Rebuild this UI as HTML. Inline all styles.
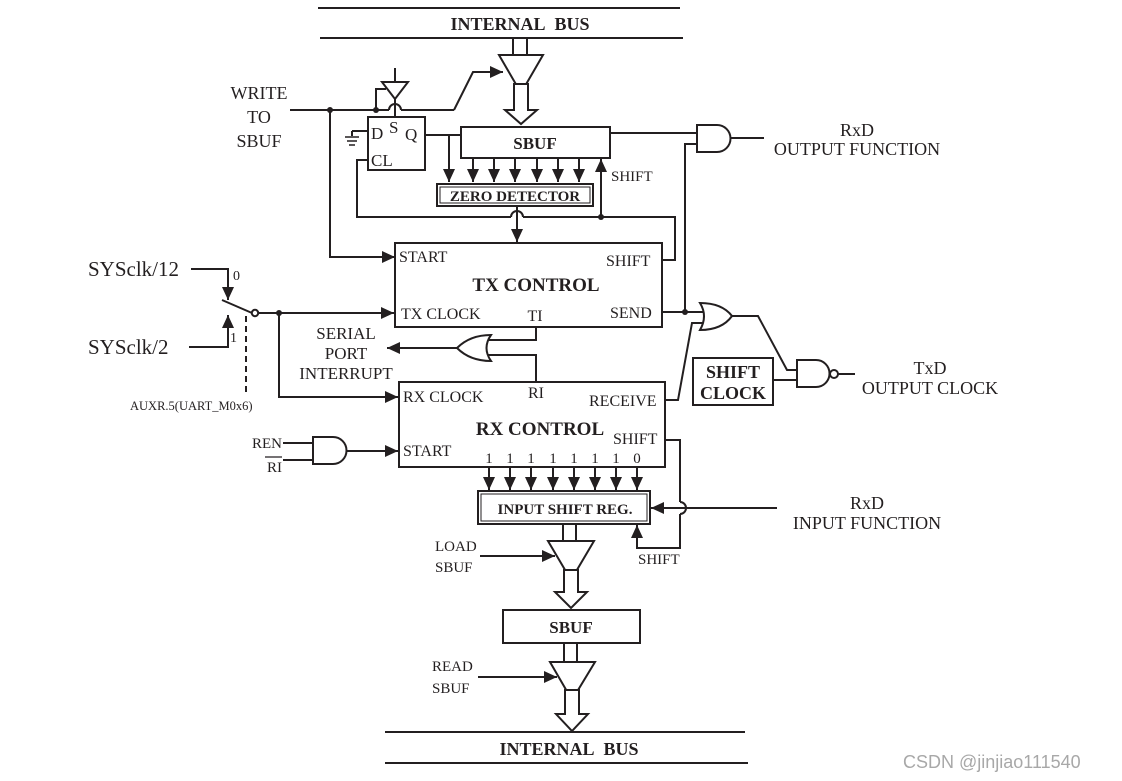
<!DOCTYPE html>
<html><head><meta charset="utf-8"><style>
html,body{margin:0;padding:0;background:#fff;}
svg{display:block;}
text{font-family:"Liberation Serif",serif;fill:#231f20;}
.b{font-weight:bold;}
</style></head><body>
<svg width="1122" height="781" viewBox="0 0 1122 781" xmlns="http://www.w3.org/2000/svg">
<defs>
<marker id="a" markerUnits="userSpaceOnUse" markerWidth="14" markerHeight="12" refX="13" refY="6" orient="auto">
<path d="M0,0 L13,6 L0,12 Z" fill="#231f20"/></marker>
</defs>
<g stroke="#231f20" stroke-width="2" fill="none">
<line x1="318" y1="8" x2="680" y2="8"/>
<line x1="320" y1="38" x2="683" y2="38"/>
<line x1="513" y1="38" x2="513" y2="55"/><line x1="527" y1="38" x2="527" y2="55"/>
<polygon points="499,55 543,55 521,93" fill="#fff"/>
<polygon points="514,84 528,84 528,110 537,110 521,124 505,110 514,110" fill="#fff"/>
<polyline points="454,110 473,72 503,72" marker-end="url(#a)"/>
<line x1="290" y1="110" x2="389" y2="110"/>
<path d="M389,110 A6,6 0 0 1 401,110"/>
<line x1="401" y1="110" x2="454" y2="110"/>
<polyline points="330,110 330,257 395,257" marker-end="url(#a)"/>
<line x1="395" y1="68" x2="395" y2="82"/>
<polygon points="382,82 408,82 395,99" fill="#fff"/>
<polyline points="376,110 376,89 386,89"/>
<line x1="395" y1="99" x2="395" y2="117"/>
<rect x="368" y="117" width="57" height="53"/>
<line x1="368" y1="131" x2="352" y2="131"/>
<line x1="352" y1="131" x2="352" y2="136"/>
<line x1="345" y1="137" x2="359" y2="137" stroke-width="1.5"/>
<line x1="347" y1="141" x2="357" y2="141" stroke-width="1.5"/>
<line x1="349" y1="145" x2="355" y2="145" stroke-width="1.5"/>
<line x1="425" y1="135" x2="461" y2="135"/>
<line x1="449" y1="135" x2="449" y2="182" marker-end="url(#a)"/>
<rect x="461" y="127" width="149" height="31"/>
<line x1="473" y1="158" x2="473" y2="182" marker-end="url(#a)"/>
<line x1="494" y1="158" x2="494" y2="182" marker-end="url(#a)"/>
<line x1="515" y1="158" x2="515" y2="182" marker-end="url(#a)"/>
<line x1="537" y1="158" x2="537" y2="182" marker-end="url(#a)"/>
<line x1="558" y1="158" x2="558" y2="182" marker-end="url(#a)"/>
<line x1="579" y1="158" x2="579" y2="182" marker-end="url(#a)"/>
<rect x="437" y="184" width="156" height="22"/>
<rect x="440" y="187" width="150" height="16" stroke-width="1"/>
<line x1="601" y1="217" x2="601" y2="159" marker-end="url(#a)"/>
<polyline points="368,160 357,160 357,217 511,217"/>
<path d="M511,217 A6,6 0 0 1 523,217"/>
<polyline points="523,217 675,217 675,260 662,260"/>
<line x1="517" y1="206" x2="517" y2="242" marker-end="url(#a)"/>
<rect x="395" y="243" width="267" height="84"/>
<polyline points="191,269 228,269 228,300" marker-end="url(#a)"/>
<polyline points="189,347 228,347 228,315" marker-end="url(#a)"/>
<line x1="222" y1="300" x2="252" y2="313"/>
<circle cx="255" cy="313" r="3.2" fill="#fff"/>
<line x1="246" y1="316" x2="246" y2="396" stroke-dasharray="6,4"/>
<line x1="258" y1="313" x2="394" y2="313" marker-end="url(#a)"/>
<polyline points="279,313 279,397 398,397" marker-end="url(#a)"/>
<path d="M491,335 Q470,335 457,348 Q470,361 491,361 Q482,348 491,335 Z" fill="#fff"/>
<line x1="457" y1="348" x2="387" y2="348" marker-end="url(#a)"/>
<polyline points="536,327 536,340 488,340"/>
<polyline points="536,382 536,355 488,355"/>
<rect x="399" y="382" width="266" height="85"/>
<path d="M313,437 H333 A13.5,13.5 0 0 1 333,464 H313 Z" fill="#fff"/>
<line x1="283" y1="443" x2="313" y2="443"/>
<line x1="283" y1="460" x2="313" y2="460"/>
<line x1="347" y1="451" x2="398" y2="451" marker-end="url(#a)"/>
<line x1="489" y1="467" x2="489" y2="490" marker-end="url(#a)"/>
<line x1="510" y1="467" x2="510" y2="490" marker-end="url(#a)"/>
<line x1="531" y1="467" x2="531" y2="490" marker-end="url(#a)"/>
<line x1="553" y1="467" x2="553" y2="490" marker-end="url(#a)"/>
<line x1="574" y1="467" x2="574" y2="490" marker-end="url(#a)"/>
<line x1="595" y1="467" x2="595" y2="490" marker-end="url(#a)"/>
<line x1="616" y1="467" x2="616" y2="490" marker-end="url(#a)"/>
<line x1="637" y1="467" x2="637" y2="490" marker-end="url(#a)"/>
<rect x="478" y="491" width="172" height="33"/>
<rect x="481" y="494" width="166" height="27" stroke-width="1"/>
<polyline points="665,440 680,440 680,502"/>
<path d="M680,502 A6,6 0 0 1 680,514"/>
<polyline points="680,514 680,548 637,548 637,525" marker-end="url(#a)"/>
<line x1="777" y1="508" x2="651" y2="508" marker-end="url(#a)"/>
<line x1="563" y1="524" x2="563" y2="541"/><line x1="576" y1="524" x2="576" y2="541"/>
<polygon points="548,541 594,541 571,580" fill="#fff"/>
<line x1="480" y1="556" x2="555" y2="556" marker-end="url(#a)"/>
<polygon points="564,570 578,570 578,592 587,592 571,608 555,592 564,592" fill="#fff"/>
<rect x="503" y="610" width="137" height="33"/>
<line x1="564" y1="643" x2="564" y2="662"/><line x1="577" y1="643" x2="577" y2="662"/>
<polygon points="550,662 595,662 572,700" fill="#fff"/>
<line x1="478" y1="677" x2="557" y2="677" marker-end="url(#a)"/>
<polygon points="565,690 579,690 579,714 588,714 572,731 556,714 565,714" fill="#fff"/>
<line x1="385" y1="732" x2="745" y2="732"/>
<line x1="385" y1="763" x2="748" y2="763"/>
<line x1="610" y1="133" x2="697" y2="133"/>
<path d="M697,125 H717 A13.5,13.5 0 0 1 717,152 H697 Z" fill="#fff"/>
<line x1="730" y1="138" x2="764" y2="138"/>
<polyline points="697,144 685,144 685,312"/>
<line x1="662" y1="312" x2="703" y2="312"/>
<path d="M700,303 Q722,303 732,316 Q722,330 700,330 Q708,316 700,303 Z" fill="#fff"/>
<polyline points="703,323 692,323 678,400 665,400"/>
<polyline points="732,316 758,316 787,370 797,370"/>
<rect x="693" y="358" width="80" height="47"/>
<line x1="773" y1="380" x2="797" y2="380"/>
<path d="M797,360 H816 A13.5,13.5 0 0 1 816,387 H797 Z" fill="#fff"/>
<circle cx="834" cy="374" r="4" fill="#fff"/>
<line x1="838" y1="374" x2="855" y2="374"/>
</g>
<g fill="#231f20" stroke="none">
<circle cx="330" cy="110" r="3"/><circle cx="376" cy="110" r="3"/>
<circle cx="601" cy="217" r="3"/><circle cx="279" cy="313" r="3"/>
<circle cx="685" cy="312" r="3"/>
</g>
<text x="520" y="30" font-size="18" class="b" text-anchor="middle">INTERNAL&#160;&#160;BUS</text>
<text x="569" y="755" font-size="18" class="b" text-anchor="middle">INTERNAL&#160;&#160;BUS</text>
<g font-size="18" text-anchor="middle">
<text x="259" y="99">WRITE</text><text x="259" y="123">TO</text><text x="259" y="147">SBUF</text>
</g>
<text x="371" y="139" font-size="17">D</text>
<text x="389" y="133" font-size="17">S</text>
<text x="405" y="140" font-size="17">Q</text>
<text x="371" y="166" font-size="17">CL</text>
<text x="535" y="149" font-size="17" class="b" text-anchor="middle">SBUF</text>
<text x="515" y="201" font-size="15" class="b" text-anchor="middle">ZERO DETECTOR</text>
<text x="611" y="181" font-size="15">SHIFT</text>
<text x="399" y="262" font-size="16">START</text>
<text x="606" y="266" font-size="16">SHIFT</text>
<text x="536" y="291" font-size="19" class="b" text-anchor="middle">TX CONTROL</text>
<text x="401" y="319" font-size="16">TX CLOCK</text>
<text x="535" y="321" font-size="16" text-anchor="middle">TI</text>
<text x="610" y="318" font-size="16">SEND</text>
<text x="88" y="276" font-size="21">SYSclk/12</text>
<text x="88" y="354" font-size="21">SYSclk/2</text>
<text x="233" y="280" font-size="14">0</text>
<text x="230" y="342" font-size="14">1</text>
<text x="130" y="410" font-size="12.5">AUXR.5(UART_M0x6)</text>
<g font-size="17" text-anchor="middle">
<text x="346" y="339">SERIAL</text><text x="346" y="359">PORT</text><text x="346" y="379">INTERRUPT</text>
</g>
<text x="403" y="402" font-size="16">RX CLOCK</text>
<text x="536" y="398" font-size="16" text-anchor="middle">RI</text>
<text x="589" y="406" font-size="16">RECEIVE</text>
<text x="540" y="435" font-size="19" class="b" text-anchor="middle">RX CONTROL</text>
<text x="613" y="444" font-size="16">SHIFT</text>
<text x="403" y="456" font-size="16">START</text>
<g font-size="15" text-anchor="middle">
<text x="489" y="463">1</text><text x="510" y="463">1</text><text x="531" y="463">1</text><text x="553" y="463">1</text>
<text x="574" y="463">1</text><text x="595" y="463">1</text><text x="616" y="463">1</text><text x="637" y="463">0</text>
</g>
<text x="282" y="448" font-size="15" text-anchor="end">REN</text>
<text x="282" y="472" font-size="15" text-anchor="end">RI</text>
<line x1="265" y1="457" x2="282" y2="457" stroke="#231f20" stroke-width="1.3"/>
<text x="565" y="514" font-size="15" class="b" text-anchor="middle">INPUT SHIFT REG.</text>
<text x="638" y="564" font-size="15">SHIFT</text>
<g font-size="15">
<text x="435" y="551">LOAD</text><text x="435" y="572">SBUF</text>
<text x="432" y="671">READ</text><text x="432" y="693">SBUF</text>
</g>
<text x="571" y="633" font-size="17" class="b" text-anchor="middle">SBUF</text>
<text x="733" y="378" font-size="18" class="b" text-anchor="middle">SHIFT</text>
<text x="733" y="399" font-size="18" class="b" text-anchor="middle">CLOCK</text>
<g font-size="18" text-anchor="middle">
<text x="857" y="136">RxD</text><text x="857" y="155">OUTPUT FUNCTION</text>
<text x="930" y="374">TxD</text><text x="930" y="394">OUTPUT CLOCK</text>
<text x="867" y="509">RxD</text><text x="867" y="529">INPUT FUNCTION</text>
</g>
<text x="903" y="768" font-size="18" style="font-family:'Liberation Sans',sans-serif;fill:#a8a8a8">CSDN @jinjiao111540</text>
</svg>
</body></html>
